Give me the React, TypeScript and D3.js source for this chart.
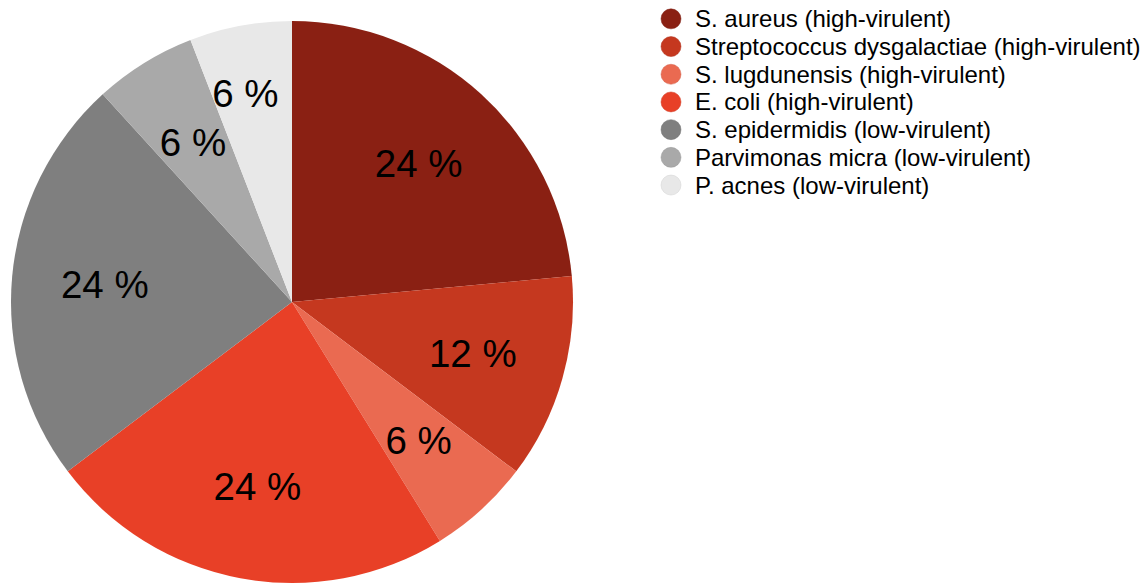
import React from "react";
import * as d3 from "d3";

// Bacterial species isolated, counts per species
const species = [
  "S. aureus (high-virulent)",
  "Streptococcus dysgalactiae (high-virulent)",
  "S. lugdunensis (high-virulent)",
  "E. coli (high-virulent)",
  "S. epidermidis (low-virulent)",
  "Parvimonas micra (low-virulent)",
  "P. acnes (low-virulent)",
];
const counts = [4, 2, 1, 4, 4, 1, 1];
const colors = ["#8a2013", "#c5381f", "#ea6a51", "#e84027", "#7f7f7f", "#a9a9a9", "#e8e8e8"];

const W = 1144;
const H = 583;
const cx = 292;
const cy = 302;
const R = 281;
const LABEL_R = 188;
const FONT = "'Liberation Sans', Arial, Helvetica, sans-serif";

// The last slice's label is pushed outward so it does not crowd its neighbour
function labelPos(a: d3.PieArcDatum<any>, i: number): [number, number] {
  const last = i === counts.length - 1;
  const r = last ? 214 : LABEL_R;
  const ang = (a.startAngle + a.endAngle) / 2 + (last ? -0.035 : 0);
  return [r * Math.sin(ang), -r * Math.cos(ang)];
}

export default function App() {
  const data = species.map((name, i) => ({ name, value: counts[i], color: colors[i] }));
  const total = d3.sum(counts);
  const pie = d3.pie<any>().value((d) => d.value).sort(null);
  const arcs = pie(data);
  const arc = d3.arc<any>().innerRadius(0).outerRadius(R);

  const legendY = d3.scaleBand().domain(species).range([5, 5 + 27.7 * species.length]);

  return (
    <svg
      width={W}
      height={H}
      style={{ position: "absolute", left: 0, top: 0, display: "block" }}
      fontFamily={FONT}
    >
      <rect width={W} height={H} fill="#fff" />
      <g transform={`translate(${cx},${cy})`}>
        {arcs.map((a, i) => (
          <path key={i} d={arc(a) as string} fill={a.data.color} />
        ))}
        {arcs.map((a, i) => {
          const [x, y] = labelPos(a, i);
          return (
            <text
              key={i}
              x={x}
              y={y}
              textAnchor="middle"
              dominantBaseline="central"
              fontSize={38.5}
              fill="#000"
            >
              {`${Math.round((a.data.value / total) * 100)} %`}
            </text>
          );
        })}
      </g>
      <g>
        {data.map((d) => {
          const y = (legendY(d.name) as number) + legendY.bandwidth() / 2;
          return (
            <g key={d.name} transform={`translate(0,${y})`}>
              <circle cx={671} cy={0} r={10} fill={d.color} stroke={d3.color(d.color)!.darker(0.3).toString()} strokeWidth={0.5} />
              <text x={695} y={0} dominantBaseline="central" fontSize={24} fill="#000">
                {d.name}
              </text>
            </g>
          );
        })}
      </g>
    </svg>
  );
}
